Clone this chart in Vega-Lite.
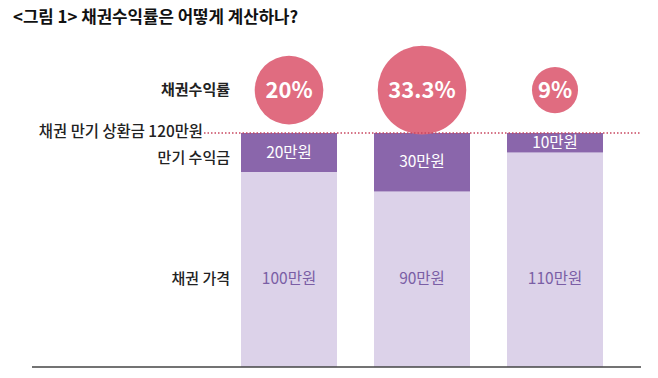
{
  "$schema": "https://vega.github.io/schema/vega-lite/v6.json",
  "width": 609,
  "height": 327,
  "autosize": {"type": "none"},
  "padding": {"left": 32, "right": 17, "top": 40, "bottom": 11},
  "background": "white",
  "config": {"view": {"stroke": null}, "font": "Noto Sans CJK KR"},
  "title": {
    "text": "<그림 1> 채권수익률은 어떻게 계산하나?",
    "anchor": "start",
    "frame": "group",
    "font": "Noto Sans CJK KR",
    "fontSize": 16.8,
    "fontWeight": "bold",
    "color": "#111111",
    "dx": -19,
    "offset": 13
  },
  "datasets": {
    "segments": [
      {"bond": "A", "part": "채권 가격", "amount": 100, "label": "100만원"},
      {"bond": "A", "part": "만기 수익금", "amount": 20, "label": "20만원"},
      {"bond": "B", "part": "채권 가격", "amount": 90, "label": "90만원"},
      {"bond": "B", "part": "만기 수익금", "amount": 30, "label": "30만원"},
      {"bond": "C", "part": "채권 가격", "amount": 110, "label": "110만원"},
      {"bond": "C", "part": "만기 수익금", "amount": 10, "label": "10만원"}
    ],
    "rates": [
      {"bond": "A", "rate": 20, "rateLabel": "20%"},
      {"bond": "B", "rate": 33.3, "rateLabel": "33.3%"},
      {"bond": "C", "rate": 9, "rateLabel": "9%"}
    ]
  },
  "encoding": {
    "x": {
      "field": "bond",
      "type": "nominal",
      "axis": null,
      "scale": {
        "domain": ["lbl", "A", "B", "C"],
        "paddingInner": 0.2782,
        "paddingOuter": 0.4286,
        "align": 0.6667
      }
    }
  },
  "layer": [
    {
      "data": {"name": "segments"},
      "transform": [
        {"stack": "amount", "groupby": ["bond"], "sort": [{"field": "part", "order": "descending"}], "as": ["v0", "v1"]}
      ],
      "mark": {"type": "bar"},
      "encoding": {
        "y": {"field": "v0", "type": "quantitative", "axis": null, "scale": {"domain": [0, 167.7], "nice": false, "zero": true}},
        "y2": {"field": "v1"},
        "color": {"field": "part", "type": "nominal", "legend": null, "scale": {"domain": ["채권 가격", "만기 수익금"], "range": ["#dcd2e9", "#8a66ab"]}}
      }
    },
    {
      "data": {"name": "segments"},
      "transform": [
        {"stack": "amount", "groupby": ["bond"], "sort": [{"field": "part", "order": "descending"}], "as": ["v0", "v1"]},
        {"filter": "datum.part === '만기 수익금'"},
        {"fold": ["v0", "v1"], "as": ["edge", "edgeValue"]}
      ],
      "mark": {"type": "text", "color": "white", "fontSize": 15.5, "baseline": "middle", "font": "Noto Sans CJK KR"},
      "encoding": {
        "y": {"field": "edgeValue", "aggregate": "mean", "type": "quantitative"},
        "text": {"field": "label"}
      }
    },
    {
      "data": {"name": "segments"},
      "transform": [{"filter": "datum.part === '채권 가격'"}],
      "mark": {"type": "text", "color": "#7a5ea5", "fontSize": 15.5, "baseline": "middle", "font": "Noto Sans CJK KR"},
      "encoding": {
        "y": {"datum": 45, "type": "quantitative"},
        "text": {"field": "label"}
      }
    },
    {
      "data": {"name": "rates"},
      "mark": {"type": "circle", "opacity": 1, "color": "#e06c80"},
      "encoding": {
        "y": {"datum": 142, "type": "quantitative"},
        "size": {"field": "rate", "type": "quantitative", "legend": null, "scale": {"type": "linear", "domain": [0, 33.3], "range": [0, 7854]}}
      }
    },
    {
      "data": {"name": "rates"},
      "mark": {"type": "text", "color": "white", "fontSize": 22, "fontWeight": "bold", "baseline": "middle", "dy": 1, "font": "Noto Sans CJK KR"},
      "encoding": {
        "y": {"datum": 142, "type": "quantitative"},
        "text": {"field": "rateLabel"}
      }
    },
    {
      "data": {"values": [{"bond": "lbl", "amount": 120}]},
      "mark": {"type": "rule", "color": "#c8465f", "strokeWidth": 1.5, "strokeDash": [1.5, 2]},
      "encoding": {
        "x": {"field": "bond", "type": "nominal", "bandPosition": 1},
        "x2": {"value": {"expr": "width"}},
        "y": {"field": "amount", "type": "quantitative"}
      }
    },
    {
      "data": {"values": [{}]},
      "mark": {"type": "rule", "color": "#444444", "strokeWidth": 1.5},
      "encoding": {"x": null, "y": {"datum": 0, "type": "quantitative"}}
    },
    {
      "data": {"values": [{"bond": "lbl", "label": "채권수익률"}]},
      "mark": {"type": "text", "align": "right", "baseline": "middle", "dx": 26, "fontSize": 15, "fontWeight": "bold", "color": "#222222", "font": "Noto Sans CJK KR"},
      "encoding": {
        "x": {"field": "bond", "type": "nominal", "bandPosition": 1},
        "y": {"datum": 142, "type": "quantitative"},
        "text": {"field": "label"}
      }
    },
    {
      "data": {"values": [{"bond": "lbl", "label": "채권 만기 상환금 120만원"}]},
      "mark": {"type": "text", "align": "right", "baseline": "middle", "dx": -1, "dy": -1, "fontSize": 15.4, "fontWeight": 500, "color": "#222222", "font": "Noto Sans CJK KR"},
      "encoding": {
        "x": {"field": "bond", "type": "nominal", "bandPosition": 1},
        "y": {"datum": 120, "type": "quantitative"},
        "text": {"field": "label"}
      }
    },
    {
      "data": {"values": [{"bond": "lbl", "label": "만기 수익금"}]},
      "mark": {"type": "text", "align": "right", "baseline": "middle", "dx": 26, "fontSize": 15, "fontWeight": 500, "color": "#222222", "font": "Noto Sans CJK KR"},
      "encoding": {
        "x": {"field": "bond", "type": "nominal", "bandPosition": 1},
        "y": {"datum": 107, "type": "quantitative"},
        "text": {"field": "label"}
      }
    },
    {
      "data": {"values": [{"bond": "lbl", "label": "채권 가격"}]},
      "mark": {"type": "text", "align": "right", "baseline": "middle", "dx": 26, "fontSize": 15, "fontWeight": 500, "color": "#222222", "font": "Noto Sans CJK KR"},
      "encoding": {
        "x": {"field": "bond", "type": "nominal", "bandPosition": 1},
        "y": {"datum": 45, "type": "quantitative"},
        "text": {"field": "label"}
      }
    }
  ]
}
